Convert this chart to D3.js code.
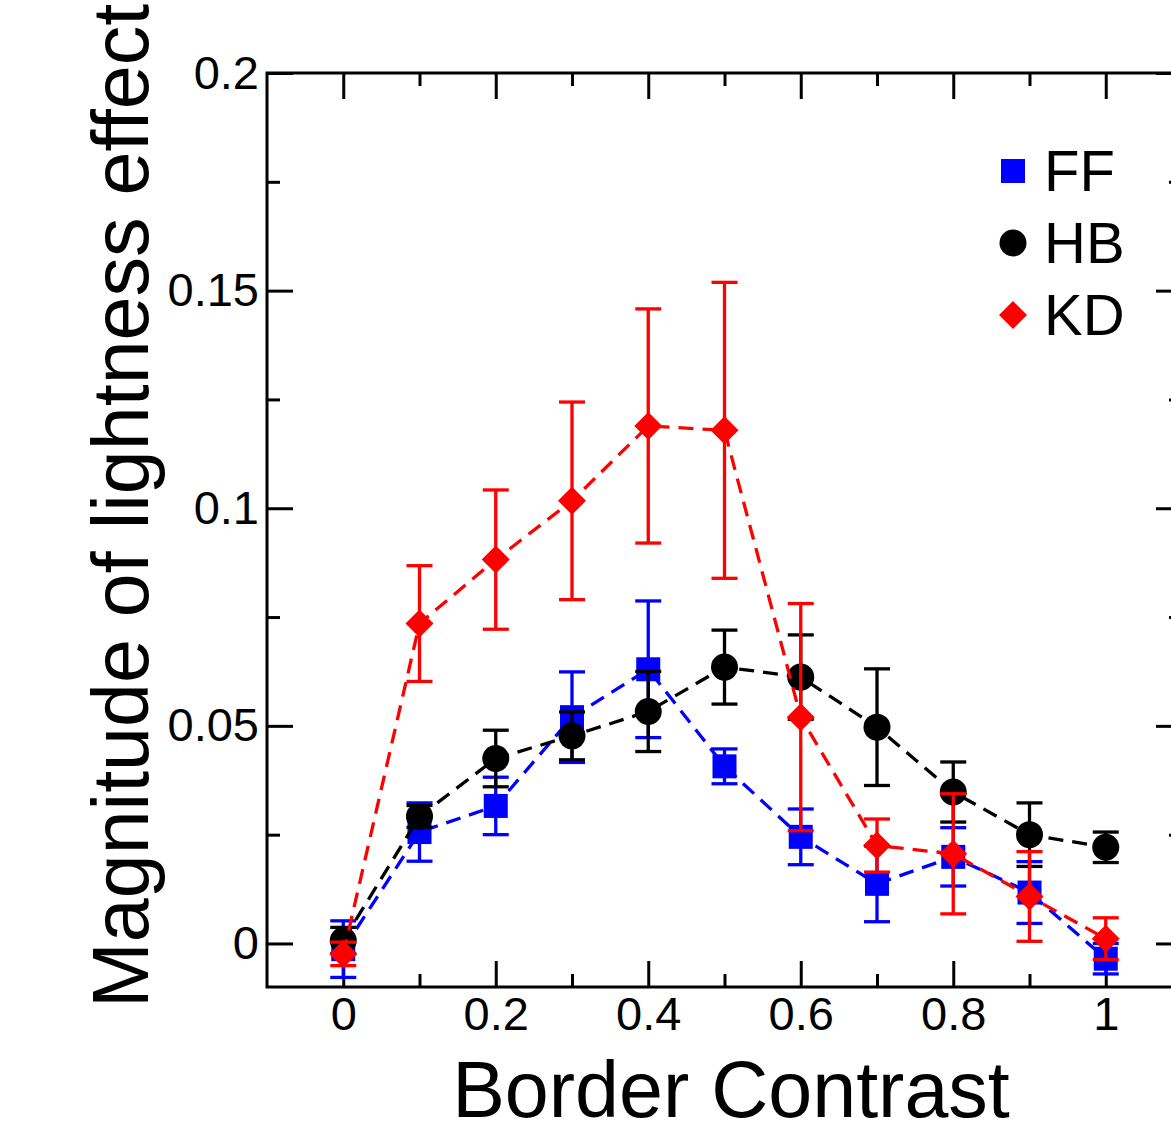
<!DOCTYPE html>
<html>
<head>
<meta charset="utf-8">
<script src="https://cdn.jsdelivr.net/npm/d3@7"></script>
<style>
  body { margin: 0; background: #fff; }
  svg { display: block; font-family: "Liberation Sans", Arial, sans-serif; }
</style>
</head>
<body>
<div class="chart"></div>
<script>
// border contrast levels
const contrast = [0, 0.1, 0.2, 0.3, 0.4, 0.5, 0.6, 0.7, 0.8, 0.9, 1.0];

// observer FF
const ffMean = [-0.0013, 0.0256, 0.0316, 0.052, 0.063, 0.0407, 0.0245, 0.0137, 0.0199, 0.0117, -0.0035];
const ffErr  = [0.0065, 0.0067, 0.0066, 0.0104, 0.0157, 0.004, 0.0064, 0.0087, 0.0067, 0.0071, 0.0035];
// observer HB
const hbMean = [0.0007, 0.0292, 0.0425, 0.0477, 0.0533, 0.0635, 0.0612, 0.0497, 0.0348, 0.025, 0.0221];
const hbErr  = [0.003, 0.0025, 0.0065, 0.0055, 0.0092, 0.0085, 0.0097, 0.0134, 0.0069, 0.0073, 0.0035];
// observer KD
const kdMean = [-0.0024, 0.0735, 0.0882, 0.1017, 0.1189, 0.1179, 0.052, 0.0225, 0.0206, 0.0108, 0.0011];
const kdErr  = [0.0027, 0.0133, 0.016, 0.0227, 0.0269, 0.034, 0.0261, 0.0061, 0.0138, 0.0103, 0.0048];

const xMajor = [0, 0.2, 0.4, 0.6, 0.8, 1];
const xMinor = [0.1, 0.3, 0.5, 0.7, 0.9];
const yMajor = [0, 0.05, 0.1, 0.15, 0.2];
const yMinor = [0.025, 0.075, 0.125, 0.175];

const seriesNames = ["FF", "HB", "KD"];
const seriesColors = ["#0000ff", "#000000", "#ff0000"];

const width = 1171, height = 1136;
const plotL = 267, plotT = 73, plotR = 1182, plotB = 987;

const svg = d3.select(".chart").append("svg")
  .attr("width", width)
  .attr("height", height);

const x = d3.scaleLinear().domain([-0.1, 1.1]).range([plotL, plotR]);
const y = d3.scaleLinear().domain([-0.01, 0.2]).range([plotB, plotT]);

const fmt = d => d === 0 ? "0" : String(+d.toFixed(2));

// axes, ticks drawn inward
function addAxis(axis, tx, ty) {
  const g = svg.append("g").attr("transform", `translate(${tx},${ty})`).call(axis);
  g.select(".domain").remove();
  g.selectAll("line").attr("stroke", "#000").attr("stroke-width", 3);
  g.selectAll("text").attr("font-size", 47).attr("fill", "#000");
  g.attr("font-family", null).attr("font-size", null);
  return g;
}

addAxis(d3.axisBottom(x).tickValues(xMajor).tickSize(-26).tickPadding(10).tickFormat(fmt), 0, plotB);
addAxis(d3.axisBottom(x).tickValues(xMinor).tickSize(-13).tickFormat(""), 0, plotB);
addAxis(d3.axisTop(x).tickValues(xMajor).tickSize(-26).tickFormat(""), 0, plotT);
addAxis(d3.axisTop(x).tickValues(xMinor).tickSize(-13).tickFormat(""), 0, plotT);
addAxis(d3.axisLeft(y).tickValues(yMajor).tickSize(-26).tickPadding(8).tickFormat(fmt), plotL, 0);
addAxis(d3.axisLeft(y).tickValues(yMinor).tickSize(-13).tickFormat(""), plotL, 0);
addAxis(d3.axisRight(y).tickValues(yMajor).tickSize(-26).tickFormat(""), plotR, 0);
addAxis(d3.axisRight(y).tickValues(yMinor).tickSize(-13).tickFormat(""), plotR, 0);

svg.append("rect")
  .attr("x", plotL).attr("y", plotT)
  .attr("width", plotR - plotL).attr("height", plotB - plotT)
  .attr("fill", "none").attr("stroke", "#000").attr("stroke-width", 3);

const data = [
  contrast.map((c, i) => ({ c: c, v: ffMean[i], e: ffErr[i] })),
  contrast.map((c, i) => ({ c: c, v: hbMean[i], e: hbErr[i] })),
  contrast.map((c, i) => ({ c: c, v: kdMean[i], e: kdErr[i] }))
];

const line = d3.line().x(d => x(d.c)).y(d => y(d.v));
const symbols = [d3.symbol().type(d3.symbolSquare).size(576),
                 d3.symbol().type(d3.symbolCircle).size(Math.PI * 13.5 * 13.5),
                 d3.symbol().type(d3.symbolDiamond2).size(500)];
const capW = 13;

data.forEach((pts, s) => {
  const col = seriesColors[s];
  const g = svg.append("g");

  g.append("path")
    .datum(pts)
    .attr("d", line)
    .attr("fill", "none")
    .attr("stroke", col)
    .attr("stroke-width", 3.3)
    .attr("stroke-dasharray", "15,9");

  const eb = g.selectAll(".eb").data(pts).enter().append("g")
    .attr("stroke", col).attr("stroke-width", 3.3);
  eb.append("line")
    .attr("x1", d => x(d.c)).attr("x2", d => x(d.c))
    .attr("y1", d => y(d.v - d.e)).attr("y2", d => y(d.v + d.e));
  eb.append("line")
    .attr("x1", d => x(d.c) - capW).attr("x2", d => x(d.c) + capW)
    .attr("y1", d => y(d.v + d.e)).attr("y2", d => y(d.v + d.e));
  eb.append("line")
    .attr("x1", d => x(d.c) - capW).attr("x2", d => x(d.c) + capW)
    .attr("y1", d => y(d.v - d.e)).attr("y2", d => y(d.v - d.e));

  g.selectAll(".mk").data(pts).enter().append("path")
    .attr("d", symbols[s])
    .attr("transform", d => `translate(${x(d.c)},${y(d.v)})`)
    .attr("fill", col);
});

// legend
const legend = svg.append("g");
seriesNames.forEach((name, i) => {
  const cy = 171 + i * 72;
  legend.append("path")
    .attr("d", symbols[i])
    .attr("transform", `translate(1013,${cy})`)
    .attr("fill", seriesColors[i]);
  legend.append("text")
    .attr("x", 1044).attr("y", cy + 20)
    .attr("font-size", 58)
    .text(name);
});

// axis titles
svg.append("text")
  .attr("x", 731).attr("y", 1117)
  .attr("text-anchor", "middle")
  .attr("font-size", 79)
  .text("Border Contrast");

svg.append("text")
  .attr("transform", "translate(148,1008) rotate(-90)")
  .attr("font-size", 79)
  .text("Magnitude of lightness effect");
</script>
</body>
</html>
